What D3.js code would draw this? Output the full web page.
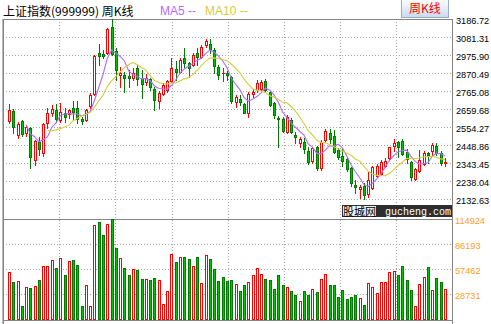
<!DOCTYPE html>
<html><head><meta charset="utf-8">
<script src="https://cdn.jsdelivr.net/npm/d3@7"></script>
<style>html,body{margin:0;padding:0;background:#fff;overflow:hidden}</style>
</head><body>
<svg id="c" width="491" height="324" xmlns="http://www.w3.org/2000/svg"></svg>
<script>
// ---- data (weekly K-line, 上证指数) ----
const opens = [2591.2,2648.0,2507.4,2589.4,2517.4,2550.2,2361.0,2468.2,2400.3,2575.9,
2638.0,2653.8,2595.3,2634.5,2628.6,2663.8,2663.8,2601.1,2595.3,2679.0,
2747.5,2985.9,2980.0,2985.9,3141.0,2999.3,2858.8,2858.8,2854.7,2839.5,
2898.0,2839.5,2819.6,2835.4,2776.8,2706.5,2745.8,2770.9,2823.7,2893.9,
2878.1,2956.6,2927.3,2917.3,2985.9,2964.2,3034.5,3040.3,3005.2,2907.6,
2868.7,2872.3,2848.8,2702.4,2716.5,2689.0,2638.0,2747.5,2770.9,2775.0,
2825.4,2761.0,2696.6,2605.2,2599.4,2526.7,2595.3,2507.4,2462.3,2468.2,
2415.5,2356.9,2438.9,2313.0,2478.1,2517.4,2501.6,2419.6,2384.4,2365.1,
2313.0,2214.6,2189.4,2208.8,2161.9,2195.3,2268.3,2279.0,2325.9,2371.0,
2443.0,2468.2,2474.0,2409.6,2351.1,2249.8,2298.4,2337.6,2403.8,2415.5,
2443.0,2403.8,2341.7];
const highs = [2687.2,2659.7,2585.3,2595.3,2561.9,2556.0,2478.1,2497.5,2575.9,2663.8,
2683.1,2687.2,2693.1,2663.8,2659.7,2706.5,2706.5,2614.6,2659.7,2751.6,
2975.9,3038.6,3005.2,3135.8,3186.72,3015.1,2907.6,2878.1,2888.1,2898.0,
2917.3,2888.1,2862.9,2843.0,2790.3,2765.1,2810.2,2829.5,2956.6,2940.8,
2956.6,3015.1,2936.7,2985.9,3016.9,3034.5,3067.9,3067.9,3015.1,2917.3,
2898.0,2884.0,2852.9,2741.7,2741.7,2696.6,2761.0,2775.0,2829.5,2829.5,
2833.6,2766.8,2702.4,2618.7,2611.1,2624.5,2605.2,2526.7,2494.0,2488.1,
2438.9,2438.9,2443.0,2478.1,2540.8,2540.8,2536.7,2429.5,2429.5,2376.8,
2321.8,2243.9,2214.6,2225.2,2293.1,2325.9,2337.6,2361.0,2371.0,2438.9,
2482.2,2474.0,2482.2,2423.7,2356.9,2313.0,2419.6,2415.5,2409.6,2458.8,
2462.3,2415.5,2371.0];
const lows = [2575.9,2517.4,2488.1,2503.3,2503.3,2315.9,2331.7,2390.3,2384.4,2546.7,
2620.4,2581.8,2585.3,2585.3,2605.2,2601.1,2575.9,2570.1,2591.2,2663.8,
2741.7,2917.3,2958.3,2980.0,2975.9,2829.5,2790.3,2757.5,2790.3,2829.5,
2800.2,2722.3,2800.2,2770.9,2653.8,2663.8,2741.7,2761.0,2819.6,2829.5,
2874.6,2907.6,2848.8,2913.4,2917.3,2956.6,3024.5,2985.9,2868.7,2833.6,
2825.4,2829.5,2696.6,2673.1,2683.1,2634.5,2611.1,2731.7,2761.0,2770.9,
2766.8,2677.2,2605.2,2435.4,2526.7,2517.4,2517.4,2458.8,2438.9,2400.3,
2337.6,2341.7,2302.5,2302.5,2468.2,2462.3,2403.8,2365.1,2325.9,2298.4,
2208.8,2170.1,2138.5,2132.63,2146.1,2189.4,2260.7,2273.2,2321.8,2365.1,
2415.5,2376.8,2390.3,2341.7,2243.9,2243.9,2293.1,2331.7,2341.7,2390.3,
2390.3,2331.7,2325.9];
const closes = [2653.8,2552.5,2570.1,2511.5,2552.5,2380.3,2472.3,2423.7,2570.1,2634.5,
2659.7,2601.1,2640.4,2614.6,2653.8,2640.4,2601.1,2589.4,2653.8,2741.7,
2970.1,2971.8,2971.8,3128.2,2980.0,2888.1,2868.7,2839.5,2839.5,2868.7,
2835.4,2804.3,2839.5,2788.5,2712.4,2751.6,2800.2,2823.7,2898.0,2874.6,
2946.6,2927.3,2901.5,2975.9,2966.0,3021.0,3055.0,3009.3,2911.5,2858.8,
2868.7,2858.8,2706.5,2731.7,2702.4,2638.0,2747.5,2761.0,2813.7,2819.6,
2770.9,2683.1,2624.5,2599.4,2532.6,2611.1,2526.7,2494.0,2482.2,2423.7,
2351.1,2429.5,2313.0,2468.2,2532.6,2482.2,2409.6,2376.8,2356.9,2307.1,
2225.2,2201.1,2201.1,2156.1,2243.9,2318.3,2325.9,2351.1,2356.9,2435.4,
2462.3,2435.4,2396.2,2365.1,2260.7,2307.1,2361.0,2403.8,2390.3,2448.9,
2400.3,2341.7,2351.1];
const volumes = [54014,42522,43671,14940,36776,35626,37925,44820,60910,60910,
67805,58611,70104,50566,66656,67805,62059,14940,39074,14940,
108029,111476,96536,109178,114924,81596,70104,58611,50566,57462,
56313,45970,45970,44820,47119,44820,17239,32179,74701,65507,
71253,71253,68954,60910,71253,41373,73551,68954,57462,43671,
48268,43671,44820,40223,32179,39074,42522,50566,58611,51716,
45970,44820,34477,50566,39074,36776,32179,27582,20686,32179,
27582,34477,31029,45970,51716,39074,39074,25283,33328,22985,
25283,27582,24134,16089,41373,36776,29880,42522,42522,54014,
55163,50566,60910,44820,33328,14940,40223,48268,59760,33328,
47119,42522,34477];
const priceTicks = [3186.72,3081.31,2975.90,2870.49,2765.08,2659.68,2554.27,2448.86,2343.45,2238.04,2132.63];
const volumeTicks = [114924,86193,57462,28731];
const maPeriods = [5,10];
const titleText = "上证指数(999999) 周K线";
const maLabels = ["MA5 --","MA10 --"];
const buttonText = "周K线";

// ---- layout ----
const L = 3, R = 452, PT = 19, PB = 199, VT = 219, VB = 319;
const RED = "#ff0000", GS = "#007a00", GF = "#00c400", GRID = "#a8a8a8", BORDER = "#858585";
const maColors = ["#b36bff","#d6cc3c"];

const svg = d3.select("#c");
const n = closes.length;
const x = d3.scaleLinear().domain([1, n]).range([9, 445]);
const y = d3.scaleLinear().domain([2132.63, 3186.72]).range([PB, PT]);
const vy = d3.scaleLinear().domain([0, 114924]).range([VB, VT]);
const col = i => Math.round(x(i + 1));
const row = v => Math.round(y(v));

// grid
const g = svg.append("g").attr("shape-rendering","crispEdges");
const vx = d3.scaleLinear().domain([0,8]).range([L, R + 0.6]);
d3.range(1,8).forEach(k => {
  const xx = Math.round(vx(k)) + 0.5;
  g.append("line").attr("x1",xx).attr("x2",xx).attr("y1",PT).attr("y2",VB+1)
   .attr("stroke",GRID).attr("stroke-dasharray","1,2");
});
priceTicks.slice(1).forEach(t => {
  const yy = row(t) + 0.5;
  g.append("line").attr("x1",L).attr("x2",R).attr("y1",yy).attr("y2",yy)
   .attr("stroke",GRID).attr("stroke-dasharray","1,2");
});
volumeTicks.slice(1).forEach(t => {
  const yy = Math.round(vy(t)) + 0.5;
  g.append("line").attr("x1",L).attr("x2",R).attr("y1",yy).attr("y2",yy)
   .attr("stroke",GRID).attr("stroke-dasharray","1,2");
});

// borders
const b = svg.append("g").attr("shape-rendering","crispEdges").attr("stroke",BORDER).attr("fill","none");
b.append("line").attr("x1",L).attr("x2",R+1).attr("y1",PT+0.5).attr("y2",PT+0.5);
b.append("line").attr("x1",L+0.5).attr("x2",L+0.5).attr("y1",PT).attr("y2",324);
b.append("line").attr("x1",L-0.5).attr("x2",L-0.5).attr("y1",PT).attr("y2",324).attr("stroke","#b8b8b8");
b.append("line").attr("x1",R+0.5).attr("x2",R+0.5).attr("y1",PT).attr("y2",324);
b.append("line").attr("x1",L).attr("x2",R+1).attr("y1",VT+0.5).attr("y2",VT+0.5).attr("stroke-width",1.5);
b.append("line").attr("x1",L).attr("x2",R+1).attr("y1",VB+1.5).attr("y2",VB+1.5);

// candles
const cg = svg.append("g").attr("shape-rendering","crispEdges");
closes.forEach((c, i) => {
  const o = opens[i], up = c >= o;
  const cx = col(i), stroke = up ? RED : GS;
  const top = row(Math.max(o,c)), bot = row(Math.min(o,c));
  const hi = row(highs[i]), lo = row(lows[i]);
  if (hi < top) cg.append("line").attr("x1",cx+0.5).attr("x2",cx+0.5).attr("y1",hi).attr("y2",top).attr("stroke",stroke);
  if (lo > bot) cg.append("line").attr("x1",cx+0.5).attr("x2",cx+0.5).attr("y1",bot+1).attr("y2",lo+1).attr("stroke",stroke);
  if (bot - top < 1) {
    cg.append("line").attr("x1",cx-1).attr("x2",cx+2).attr("y1",top+0.5).attr("y2",top+0.5).attr("stroke",stroke);
  } else {
    cg.append("rect").attr("x",cx-0.5).attr("y",top+0.5).attr("width",2).attr("height",bot-top)
      .attr("fill", up ? "#fff" : GF).attr("stroke",stroke);
  }
});

// moving averages
maPeriods.forEach((p, k) => {
  const pts = [];
  for (let i = p - 1; i < n; i++) pts.push([x(i+1), y(d3.mean(closes.slice(i-p+1, i+1)))]);
  svg.append("path").attr("d", d3.line()(pts)).attr("fill","none")
     .attr("stroke", maColors[k]).attr("stroke-width",1.1);
});

// volume bars
const vg = svg.append("g").attr("shape-rendering","crispEdges");
volumes.forEach((v, i) => {
  const up = closes[i] > opens[i];
  const cx = col(i), top = Math.round(vy(v));
  vg.append("rect").attr("x",cx-0.5).attr("y",top+0.5).attr("width",2).attr("height",VB-top)
    .attr("fill", up ? "#fff" : GF).attr("stroke", up ? RED : GS);
});

// axis labels
const lf = "'Liberation Sans', Arial, sans-serif";
priceTicks.forEach(t => {
  svg.append("text").attr("x",456).attr("y",row(t)+4.5).text(t.toFixed(2))
    .attr("font-family",lf).attr("font-size","9.2px").attr("fill","#000");
});
volumeTicks.forEach(t => {
  svg.append("text").attr("x",455).attr("y",Math.round(vy(t))+4.5).text(String(t))
    .attr("font-family",lf).attr("font-size","9.2px").attr("fill","#ff9d1e");
});

// title & legend
svg.append("text").attr("x",3).attr("y",15.5).text(titleText)
  .attr("font-family","'Noto Sans CJK SC', sans-serif").attr("font-size","12px").attr("fill","#000");
const lx = [160, 205];
maLabels.forEach((t,k) => svg.append("text").attr("x",lx[k]).attr("y",15).text(t)
  .attr("font-family",lf).attr("font-size","12px").attr("fill",maColors[k]));

// button
const defs = svg.append("defs");
const lg = defs.append("linearGradient").attr("id","bg").attr("x1",0).attr("y1",0).attr("x2",0).attr("y2",1);
lg.append("stop").attr("offset","0%").attr("stop-color","#ffffff");
lg.append("stop").attr("offset","100%").attr("stop-color","#c9dbf1");
svg.append("rect").attr("x",401.5).attr("y",-0.5).attr("width",47).attr("height",17.5)
  .attr("fill","url(#bg)").attr("stroke","#9aafc8").attr("shape-rendering","crispEdges");
svg.append("text").attr("x",425).attr("y",13).attr("text-anchor","middle").text(buttonText)
  .attr("font-family","'Noto Sans CJK SC', sans-serif").attr("font-size","12px").attr("fill","#ff0000");

// watermark
const wm = svg.append("g").attr("shape-rendering","crispEdges");
wm.append("rect").attr("x",342).attr("y",205).attr("width",110).attr("height",12).attr("fill","#2e2e2e");
wm.append("rect").attr("x",343).attr("y",206).attr("width",33).attr("height",10).attr("fill","#f2f2f2");
svg.append("text").attr("x",343).attr("y",215.5).text("股城网")
  .attr("font-family","'Noto Sans CJK SC', sans-serif").attr("font-size","11px").attr("fill","#000");
svg.append("text").attr("x",385).attr("y",215).text("gucheng.com")
  .attr("font-family","'Liberation Mono', monospace").attr("font-size","10px").attr("fill","#fff");
</script>
</body></html>
